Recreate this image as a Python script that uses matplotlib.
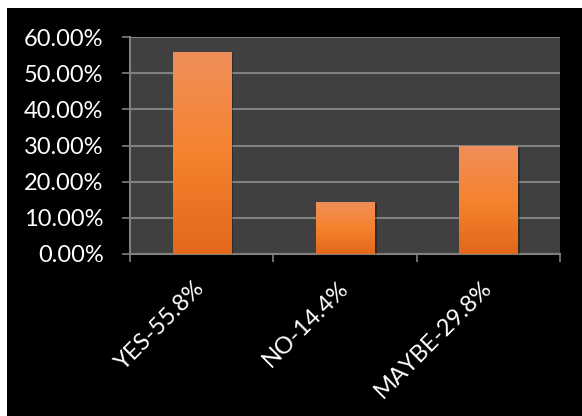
import numpy as np
import matplotlib.pyplot as plt
from matplotlib.patches import Rectangle
from matplotlib.colors import LinearSegmentedColormap
from matplotlib.ticker import FuncFormatter, FixedLocator
import matplotlib.patheffects as pe

# Survey answers and their shares
categories = ['YES-55.8%', 'NO-14.4%', 'MAYBE-29.8%']
shares = [0.558, 0.144, 0.298]
y_ticks = [0.0, 0.1, 0.2, 0.3, 0.4, 0.5, 0.6]

plt.rcParams['font.family'] = ['Lato', 'DejaVu Sans']

W, H = 582, 416
fig = plt.figure(figsize=(W / 100, H / 100), dpi=100, facecolor='white')
# black panel with a thin white edge on the top and left
fig.patches.append(Rectangle((7 / W, 0), 1 - 7 / W, (H - 8) / H,
                             transform=fig.transFigure, facecolor='black',
                             edgecolor='none', zorder=-5))

ax = fig.add_axes([130 / W, 1 - 254 / H, 430 / W, 217 / H])
ax.set_zorder(2)
ax.set_facecolor('#404040')

x = np.arange(len(categories))
bars = ax.bar(x, shares, width=0.405, color='#F07F30', zorder=3)

# vertical orange gradient inside each bar
grad = LinearSegmentedColormap.from_list(
    'orange', ['#E2681A', '#F5832F', '#F08E5A'])
for b in bars:
    b.set_path_effects([pe.SimplePatchShadow(offset=(2, -1), alpha=0.3,
                                             shadow_rgbFace='black'),
                        pe.Normal()])
    x0, y0 = b.get_x(), b.get_y()
    im = ax.imshow(np.linspace(0, 1, 256).reshape(-1, 1), cmap=grad,
                   origin='lower', aspect='auto', zorder=4,
                   extent=[x0, x0 + b.get_width(), y0, y0 + b.get_height()])
    im.set_clip_path(b)

ax.set_xlim(-0.5, len(categories) - 0.5)
ax.set_ylim(0, 0.6)

ax.yaxis.set_major_locator(FixedLocator(y_ticks))
ax.yaxis.set_major_formatter(FuncFormatter(lambda v, _: f'{v * 100:.2f}%'))
ax.grid(axis='y', color='#808080', linewidth=1.5, zorder=1)
ax.set_axisbelow(True)

ax.set_xticks(x)
ax.set_xticklabels(categories, rotation=45, ha='right', va='center',
                   rotation_mode='anchor')
ax.set_xticks(np.arange(len(categories) + 1) - 0.5, minor=True)

ax.tick_params(axis='x', which='major', length=0, pad=22,
               labelsize=17, labelcolor='white')
ax.tick_params(axis='x', which='minor', length=6, width=1.2,
               color='#808080', direction='out')
ax.tick_params(axis='y', length=6, width=1.2, color='#808080',
               labelsize=17, labelcolor='white', pad=13)

for side in ['top', 'right']:
    ax.spines[side].set_visible(False)
for side in ['left', 'bottom']:
    ax.spines[side].set_color('#808080')
    ax.spines[side].set_linewidth(1.5)

fig.savefig('out.png', dpi=100, facecolor=fig.get_facecolor())
